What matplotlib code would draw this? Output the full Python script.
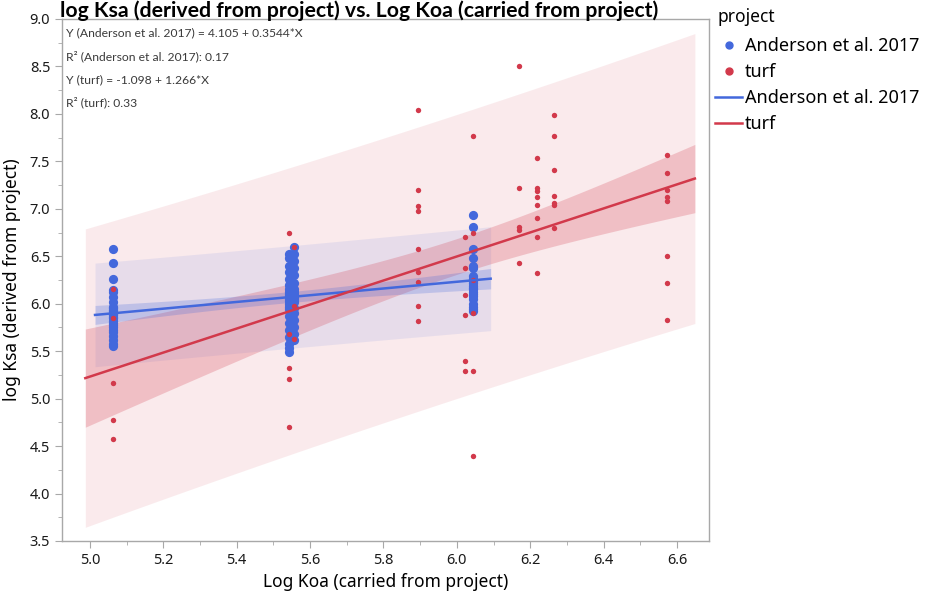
import numpy as np
import matplotlib
matplotlib.use("Agg")
import matplotlib.pyplot as plt
from matplotlib.lines import Line2D
from matplotlib.ticker import MultipleLocator

plt.rcParams['font.family'] = ['Noto Sans', 'DejaVu Sans']

# ---------------- data ----------------
anderson_koa_levels = [5.063, 5.542, 5.556, 6.043]
anderson_ksa_groups = [
    [6.58, 6.43, 6.26, 6.14, 6.12, 6.07, 6.02, 5.97, 5.95, 5.93, 5.92, 5.90,
     5.89, 5.88, 5.86, 5.85, 5.82, 5.80, 5.78, 5.75, 5.72, 5.70, 5.66, 5.62,
     5.58, 5.55],
    [6.52, 6.48, 6.40, 6.33, 6.26, 6.20, 6.15, 6.12, 6.10, 6.08, 6.05, 6.03,
     6.00, 5.97, 5.94, 5.87, 5.80, 5.72, 5.65, 5.58, 5.53, 5.49],
    [6.60, 6.52, 6.45, 6.38, 6.30, 6.22, 6.15, 6.12, 6.10, 6.08, 6.06, 6.04,
     6.02, 5.96, 5.90, 5.83, 5.76, 5.68, 5.62],
    [6.93, 6.81, 6.58, 6.48, 6.40, 6.38, 6.29, 6.26, 6.24, 6.22, 6.19, 6.17,
     6.15, 6.12, 6.10, 6.08, 6.05, 6.00, 5.97, 5.94, 5.92],
]
turf_koa_levels = [5.063, 5.542, 5.556, 5.894, 6.022, 6.043, 6.168, 6.219, 6.266, 6.573]
turf_ksa_groups = [
    [6.16, 5.85, 5.16, 4.78, 4.57],
    [6.75, 5.68, 5.32, 5.21, 4.70],
    [6.60, 5.98, 5.63],
    [8.04, 7.20, 7.03, 6.98, 6.58, 6.33, 6.23, 5.98, 5.82],
    [6.70, 6.38, 6.09, 5.88, 5.40, 5.29],
    [7.77, 6.75, 6.25, 5.90, 5.29, 4.40],
    [8.51, 7.22, 6.81, 6.78, 6.43],
    [7.54, 7.22, 7.19, 7.12, 7.04, 6.90, 6.70, 6.32],
    [7.99, 7.77, 7.41, 7.14, 7.06, 7.04, 6.80],
    [7.57, 7.38, 7.20, 7.12, 7.08, 6.50, 6.22, 5.83],
]
anderson_fit = [4.105, 0.3544]   # intercept, slope
turf_fit = [-1.098, 1.266]
anderson_r2 = 0.17
turf_r2 = 0.33

series_names = ["Anderson et al. 2017", "turf"]
legend_title = "project"
x_ticks = [5.0, 5.2, 5.4, 5.6, 5.8, 6.0, 6.2, 6.4, 6.6]
y_ticks = [3.5, 4.0, 4.5, 5.0, 5.5, 6.0, 6.5, 7.0, 7.5, 8.0, 8.5, 9.0]


def expand(levels, groups):
    xs, ys = [], []
    for lv, g in zip(levels, groups):
        xs += [lv] * len(g)
        ys += g
    return np.array(xs), np.array(ys)


ax_x, ax_y = expand(anderson_koa_levels, anderson_ksa_groups)
tf_x, tf_y = expand(turf_koa_levels, turf_ksa_groups)

BLUE = '#4368DC'
RED = '#D2394B'
W, H = 929, 597

fig = plt.figure(figsize=(W / 100, H / 100), dpi=100)
ax = fig.add_axes([62 / W, 1 - 541 / H, (709 - 62) / W, (541 - 19) / H])


def bands(x, y, fit, ext=0.05, t=1.99):
    b0, b1 = fit
    n = len(x)
    resid = y - (b0 + b1 * x)
    s = np.sqrt(np.sum(resid ** 2) / (n - 2))
    xbar = x.mean()
    sxx = np.sum((x - xbar) ** 2)
    rng = x.max() - x.min()
    xx = np.linspace(x.min() - ext * rng, x.max() + ext * rng, 200)
    yy = b0 + b1 * xx
    ci = t * s * np.sqrt(1 / n + (xx - xbar) ** 2 / sxx)
    pi = t * s * np.sqrt(1 + 1 / n + (xx - xbar) ** 2 / sxx)
    return xx, yy, ci, pi


for x, y, fit, col in [(tf_x, tf_y, turf_fit, RED), (ax_x, ax_y, anderson_fit, BLUE)]:
    xx, yy, ci, pi = bands(x, y, fit)
    ax.fill_between(xx, yy - pi, yy + pi, color=col, alpha=0.10, lw=0, zorder=1)
    ax.fill_between(xx, yy - ci, yy + ci, color=col, alpha=0.24, lw=0, zorder=2)

ax.scatter(ax_x, ax_y, s=44, color=BLUE, lw=0, zorder=3)
ax.scatter(tf_x, tf_y, s=15, color=RED, lw=0, zorder=4)

for x, fit, col in [(ax_x, anderson_fit, BLUE), (tf_x, turf_fit, RED)]:
    rng = x.max() - x.min()
    xx = np.array([x.min() - 0.05 * rng, x.max() + 0.05 * rng])
    ax.plot(xx, fit[0] + fit[1] * xx, color=col, lw=1.8, zorder=5)

ax.set_xlim(4.924, 6.687)
ax.set_ylim(3.5, 9.0)
ax.set_xticks(x_ticks)
ax.set_xticklabels([f"{v:.1f}" for v in x_ticks])
ax.set_yticks(y_ticks)
ax.set_yticklabels([f"{v:.1f}" for v in y_ticks])
ax.xaxis.set_minor_locator(MultipleLocator(0.1))
ax.yaxis.set_minor_locator(MultipleLocator(0.25))
for sp in ax.spines.values():
    sp.set_color('#A8A8A8')
    sp.set_linewidth(1.0)
ax.tick_params(which='both', direction='out', color='#A8A8A8', labelsize=10.5,
               labelcolor='#1a1a1a')
ax.tick_params(which='major', length=5)
ax.tick_params(which='minor', length=3)

ax.set_xlabel("Log Koa (carried from project)", fontsize=12.5, labelpad=4)
ax.set_ylabel("log Ksa (derived from project)", fontsize=12.5, labelpad=6)

fig.text(60 / W, 1 - 0 / H, "log Ksa (derived from project) vs. Log Koa (carried from project)",
         fontsize=15.3, fontweight='bold', family=['Lato', 'DejaVu Sans'],
         ha='left', va='top')

lines = [
    f"Y ({series_names[0]}) = {anderson_fit[0]} + {anderson_fit[1]}*X",
    f"R\u00b2 ({series_names[0]}): {anderson_r2}",
    f"Y ({series_names[1]}) = {turf_fit[0]} + {turf_fit[1]}*X",
    f"R\u00b2 ({series_names[1]}): {turf_r2}",
]
for i, txt in enumerate(lines):
    fig.text(66 / W, 1 - (33 + 23.3 * i) / H, txt, family=['Lato', 'DejaVu Sans'],
             fontsize=8.7, color='#3a3a3a', va='center', ha='left', zorder=6)

fig.text(718 / W, 1 - 17 / H, legend_title, fontsize=12.5, va='center', ha='left')
handles = [
    Line2D([], [], ls='none', marker='o', ms=5, color=BLUE),
    Line2D([], [], ls='none', marker='o', ms=5, color=RED),
    Line2D([], [], color=BLUE, lw=1.8),
    Line2D([], [], color=RED, lw=1.8),
]
leg = fig.legend(handles, series_names + series_names,
                 loc='upper left', bbox_to_anchor=(715 / W, 1 - 37 / H), frameon=False,
                 fontsize=13, handlelength=1.5, handletextpad=0.15,
                 labelspacing=0.45, borderaxespad=0, borderpad=0)

fig.savefig("out.png", dpi=100)
